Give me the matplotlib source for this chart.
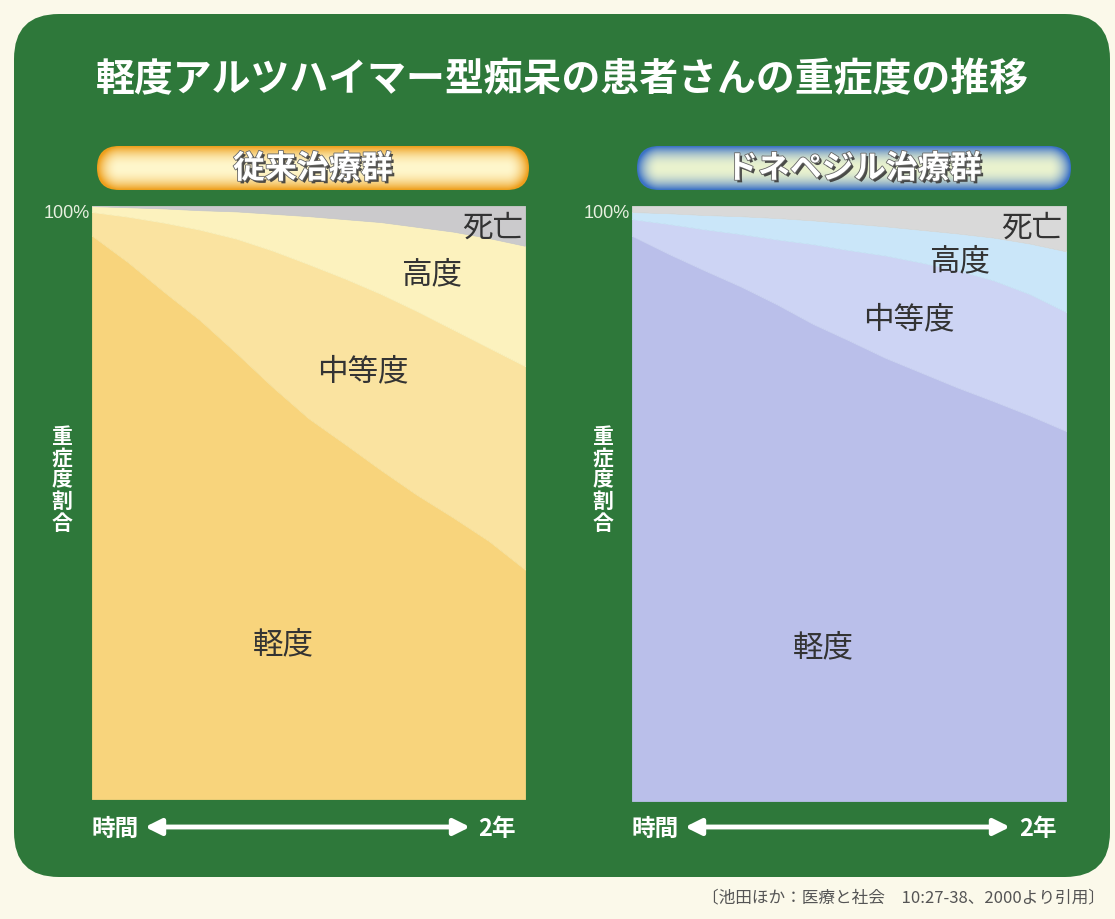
import matplotlib
matplotlib.use('Agg')
import matplotlib.pyplot as plt
import numpy as np
from matplotlib.patches import FancyBboxPatch
import matplotlib.patheffects as pe

plt.rcParams['font.family'] = ['Noto Sans CJK JP', 'DejaVu Sans']

# ---------------- data (percent of patients, months 0..24) ----------------
months = [0, 2, 4, 6, 8, 10, 12, 14, 16, 18, 20, 22, 24]

conv_mild     = [95.0, 90.5, 85.5, 80.7, 75.2, 69.5, 64.2, 59.9, 55.5, 51.3, 47.5, 43.5, 38.7]
conv_moderate = [4.0, 7.7, 11.7, 15.3, 19.3, 23.0, 26.0, 27.9, 29.7, 31.0, 31.7, 32.6, 34.3]
conv_severe   = [1.0, 1.6, 2.4, 3.3, 4.6, 6.2, 8.1, 10.0, 12.1, 14.2, 16.5, 18.5, 20.3]
conv_death    = [0.0, 0.2, 0.4, 0.7, 0.9, 1.3, 1.7, 2.2, 2.7, 3.5, 4.3, 5.4, 6.7]

done_mild     = [95.0, 92.0, 89.2, 86.5, 83.5, 80.2, 77.4, 74.5, 72.0, 69.5, 67.2, 64.8, 62.2]
done_moderate = [2.8, 5.0, 6.9, 8.8, 10.9, 13.4, 15.2, 17.2, 18.5, 19.7, 20.3, 20.4, 20.0]
done_severe   = [1.2, 1.8, 2.4, 3.0, 3.6, 4.0, 4.5, 4.9, 5.5, 6.2, 7.2, 8.5, 10.2]
done_death    = [1.0, 1.2, 1.5, 1.7, 2.0, 2.4, 2.9, 3.4, 4.0, 4.6, 5.3, 6.3, 7.6]

title = '軽度アルツハイマー型痴呆の患者さんの重症度の推移'
group_names = ['従来治療群', 'ドネペジル治療群']
layer_names = ['軽度', '中等度', '高度', '死亡']
ylabel = '重症度割合'
top_tick = '100%'
x_start, x_end = '時間', '2年'
citation = '〔池田ほか：医療と社会　10:27-38、2000より引用〕'

# ---------------- figure ----------------
W, H = 1115, 920
fig = plt.figure(figsize=(W / 100, H / 100), dpi=100)
fig.patch.set_facecolor('#FBF9EA')
bg = fig.add_axes([0, 0, 1, 1])
bg.set_xlim(0, W)
bg.set_ylim(H, 0)
bg.axis('off')

green = FancyBboxPatch((14, 15), 1096, 863,
                       boxstyle='round,pad=0,rounding_size=45',
                       fc='#2E783A', ec='none', zorder=0)
bg.add_patch(green)

bg.text(562, 80, title, ha='center', va='center', color='white',
        fontsize=28, fontweight='bold', zorder=5)


def pill(x0, x1, y0, y1, edge, center, text):
    w, h = x1 - x0, y1 - y0
    r = h / 2
    patch = FancyBboxPatch((x0, y0), w, h,
                           boxstyle='round,pad=0,rounding_size=%f' % r,
                           fc='none', ec='none', zorder=2)
    bg.add_patch(patch)
    nx, ny = 400, 60
    xs = np.linspace(x0, x1, nx)
    ys = np.linspace(y0, y1, ny)
    X, Y = np.meshgrid(xs, ys)
    cx = np.clip(X, x0 + r, x1 - r)
    d = np.sqrt((X - cx) ** 2 + (Y - (y0 + r)) ** 2) / r
    d = np.clip(d, 0, 1) ** 2.2
    e = np.array(matplotlib.colors.to_rgb(edge))
    c = np.array(matplotlib.colors.to_rgb(center))
    img = c[None, None, :] * (1 - d[..., None]) + e[None, None, :] * d[..., None]
    im = bg.imshow(img, extent=(x0, x1, y1, y0), origin='upper',
                   aspect='auto', zorder=2, interpolation='bilinear')
    im.set_clip_path(patch)
    bg.text((x0 + x1) / 2, (y0 + y1) / 2 + 1, text, ha='center', va='center',
            color='white', fontsize=23, fontweight='bold', zorder=4,
            path_effects=[pe.withSimplePatchShadow(offset=(1.8, -1.8),
                                                   shadow_rgbFace='#3a3a3a',
                                                   alpha=0.9),
                          pe.withStroke(linewidth=1.2, foreground='#666666')])


pill(97, 529, 147, 191, '#EE9F1C', '#FFF7CC', group_names[0])
pill(637, 1071, 147, 191, '#3C72C6', '#EAF3CF', group_names[1])
bg.set_xlim(0, W)
bg.set_ylim(H, 0)

panels = [
    dict(px=(92, 525), py=(207, 800),
         data=[conv_mild, conv_moderate, conv_severe, conv_death],
         colors=['#F8D47C', '#FAE3A0', '#FCF2BE', '#CBCACC'],
         labels=[(10.6, 26.1), (15.0, 72.2), (18.8, 88.5), (22.2, 96.5)],
         tick_x=90, ylab_x=62, arrow=(145, 470), t0=115, t1=497),
    dict(px=(632, 1066), py=(207, 802),
         data=[done_mild, done_moderate, done_severe, done_death],
         colors=['#BABFEA', '#CDD4F4', '#CAE6F9', '#D9D9D9'],
         labels=[(10.6, 25.9), (15.3, 81.0), (18.1, 90.8), (22.1, 96.5)],
         tick_x=630, ylab_x=603, arrow=(685, 1010), t0=655, t1=1038),
]

for p in panels:
    (x0, x1), (y0, y1) = p['px'], p['py']
    ax = fig.add_axes([x0 / W, 1 - y1 / H, (x1 - x0) / W, (y1 - y0) / H])
    polys = ax.stackplot(months, *p['data'], colors=p['colors'])
    for poly, col in zip(polys, p['colors']):
        poly.set_edgecolor(col)
        poly.set_linewidth(0.6)
    ax.set_xlim(months[0], months[-1])
    ax.set_ylim(0, 100)
    ax.axis('off')
    for name, (lx, ly) in zip(layer_names, p['labels']):
        ax.text(lx, ly, name, ha='center', va='center', fontsize=22,
                color='#333333')
    bg.text(p['tick_x'], 213, top_tick, ha='right', va='center',
            fontsize=13, color='#E8F0E0', family='Liberation Sans')
    bg.text(p['ylab_x'], 480, '\n'.join(ylabel), ha='center', va='center',
            fontsize=15, color='white', linespacing=1.05, fontweight='bold')
    a0, a1 = p['arrow']
    bg.annotate('', xy=(a1, 828), xytext=(a0, 828),
                arrowprops=dict(arrowstyle='<|-|>', color='white', lw=3.5,
                                mutation_scale=24, shrinkA=0, shrinkB=0))
    bg.text(p['t0'], 829, x_start, ha='center', va='center', fontsize=17,
            color='white', fontweight='bold')
    bg.text(p['t1'], 829, x_end, ha='center', va='center', fontsize=17,
            color='white', fontweight='bold')

bg.text(1105, 898, citation, ha='right', va='center', fontsize=12,
        color='#555555')

fig.savefig('out.png', dpi=100, facecolor=fig.get_facecolor())
